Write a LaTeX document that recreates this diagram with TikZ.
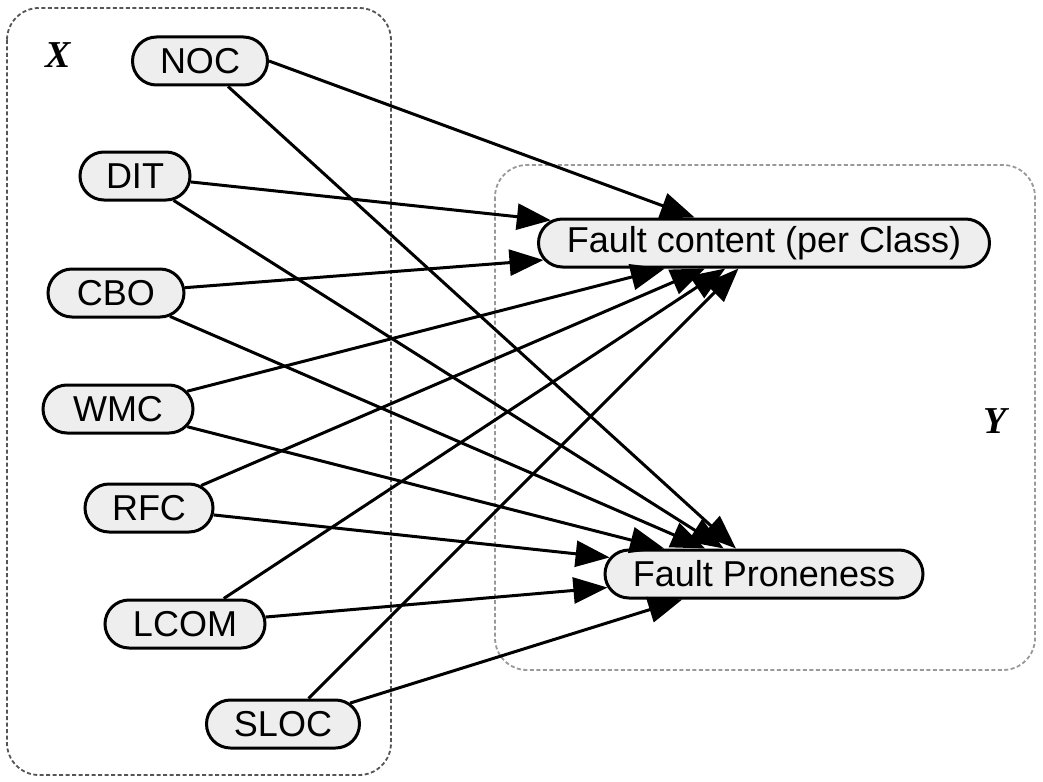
\documentclass[tikz,border=0pt]{standalone}
\usepackage{fontspec}
\setmainfont{Liberation Sans}
\newfontfamily\lblfont{Liberation Serif}
\usetikzlibrary{shapes.misc,arrows.meta}
\definecolor{nodefill}{HTML}{EEEEEE}
\definecolor{boxX}{HTML}{555555}
\definecolor{boxY}{HTML}{999999}
\tikzset{
  metric/.style={rounded rectangle, draw=black, line width=3pt, fill=nodefill,
    minimum height=48pt, inner sep=0pt, font=\fontsize{36}{40}\selectfont},
  edge/.style={line width=3pt, -{Triangle[length=34pt,width=26pt]}},
  grp/.style={dashed, dash pattern=on 4pt off 2.5pt, line width=1.8pt, rounded corners=32pt},
  grplabel/.style={font=\lblfont\bfseries\itshape\fontsize{38}{40}\selectfont}
}
\begin{document}
\begin{tikzpicture}[x=1pt,y=-1pt]
\useasboundingbox (0,0) rectangle (1043,781);
% group boxes
\draw[grp, draw=boxX] (7,8) rectangle (391,775);
\draw[grp, draw=boxY] (495,165) rectangle (1035,670);
\node[grplabel] (xl) at (58,55) {X};
\node[grplabel] (yl) at (995,421) {Y};
% nodes
\node[metric, minimum width=135pt] (noc) at (200,61) {NOC};
\node[metric, minimum width=110pt] (dit) at (135,176) {DIT};
\node[metric, minimum width=136pt] (cbo) at (116,293) {CBO};
\node[metric, minimum width=150pt] (wmc) at (118,409) {WMC};
\node[metric, minimum width=128pt] (rfc) at (149,508) {RFC};
\node[metric, minimum width=160pt] (lcom) at (185,624) {LCOM};
\node[metric, minimum width=153pt] (sloc) at (283,724) {SLOC};
\node[metric, minimum width=451pt] (fc) at (764,243) {Fault content (per Class)};
\node[metric, minimum width=318pt] (fp) at (764,574) {Fault Proneness};
% edges
\draw[edge] (noc.east) -- (fc);
\draw[edge] (noc) -- (fp);
\draw[edge] (dit) -- (fc);
\draw[edge] (dit) -- (fp);
\draw[edge] (cbo) -- (fc);
\draw[edge] (cbo) -- (fp);
\draw[edge] (wmc) -- (fc);
\draw[edge] (wmc) -- (fp);
\draw[edge] (rfc) -- (fc);
\draw[edge] (rfc) -- (fp);
\draw[edge] (lcom) -- (fc);
\draw[edge] (lcom) -- (fp);
\draw[edge] (sloc) -- (fc);
\draw[edge] (sloc) -- (fp);
\end{tikzpicture}
\end{document}
